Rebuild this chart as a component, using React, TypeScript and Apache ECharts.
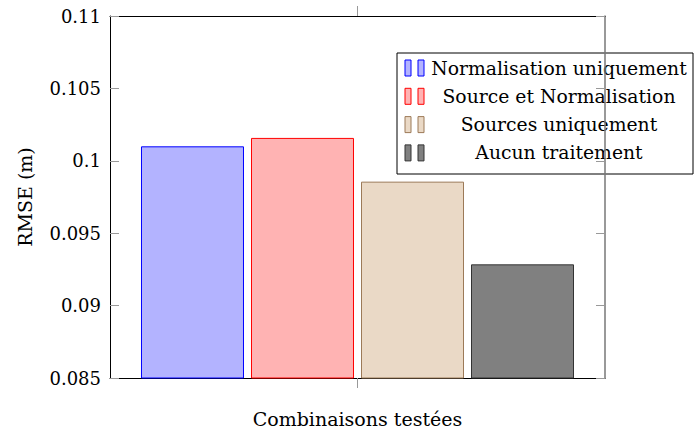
import React, { useEffect, useRef } from "react";
import * as echarts from "echarts";

const categories = [""];
const seriesNames = [
  "Normalisation uniquement",
  "Source et Normalisation",
  "Sources uniquement",
  "Aucun traitement",
];
const seriesValues = [[0.101], [0.10158], [0.09856], [0.09285]];
const fillColors = ["#b3b3ff", "#ffb3b3", "#ead9c6", "#808080"];
const borderColors = ["#0000ff", "#ff0000", "#9c7a58", "#333333"];
const yMin = 0.085;
const yMax = 0.11;
const yStep = 0.005;

const FONT = "DejaVu Serif";

export default function App() {
  const ref = useRef<HTMLDivElement>(null);
  useEffect(() => {
    if (!ref.current) return;
    const chart = echarts.init(ref.current, null, { renderer: "svg" });
    const gridLeft = 110;
    const gridTop = 16;
    const gridW = 495;
    const gridH = 366;

    const legendX = 397;
    const legendY = 53;
    const rowH = 28.3;
    const legendChildren: any[] = [
      {
        type: "rect",
        shape: { x: legendX, y: legendY, width: 296, height: 121 },
        style: { fill: "#ffffff", stroke: "#000000", lineWidth: 1 },
      },
    ];
    seriesNames.forEach((name, i) => {
      const cy = legendY + 15 + i * rowH;
      [405, 418].forEach((ix) => {
        legendChildren.push({
          type: "rect",
          shape: { x: ix, y: cy - 8, width: 6, height: 16 },
          style: { fill: fillColors[i], stroke: borderColors[i], lineWidth: 1 },
        });
      });
      legendChildren.push({
        type: "text",
        x: 559,
        y: cy,
        style: {
          text: name,
          fontFamily: FONT,
          fontSize: 18.8,
          fill: "#000",
          align: "center",
          verticalAlign: "middle",
        },
      });
    });

    chart.setOption({
      animation: false,
      backgroundColor: "#ffffff",
      grid: { left: gridLeft, top: gridTop, width: gridW, height: gridH },
      textStyle: { fontFamily: FONT },
      xAxis: [
        {
          type: "category",
          data: categories,
          position: "bottom",
          name: "Combinaisons testées",
          nameLocation: "middle",
          nameGap: 31,
          nameTextStyle: { fontFamily: FONT, fontSize: 19, color: "#000" },
          axisLine: { lineStyle: { color: "#000", width: 1 } },
          axisTick: { show: true, inside: false, length: 10, alignWithLabel: true, lineStyle: { color: "#999", width: 1 } },
          axisLabel: { show: false },
        },
        {
          type: "category",
          data: categories,
          position: "top",
          axisLine: { lineStyle: { color: "#000", width: 1 } },
          axisTick: { show: true, inside: false, length: 10, alignWithLabel: true, lineStyle: { color: "#999", width: 1 } },
          axisLabel: { show: false },
        },
      ],
      yAxis: [
        {
          type: "value",
          min: yMin,
          max: yMax,
          interval: yStep,
          position: "left",
          name: "RMSE (m)",
          nameLocation: "middle",
          nameGap: 76,
          nameTextStyle: { fontFamily: FONT, fontSize: 19, color: "#000" },
          axisLine: { show: true, lineStyle: { color: "#000", width: 1 } },
          axisTick: { show: true, inside: true, length: 9, lineStyle: { color: "#999", width: 1 } },
          axisLabel: { fontFamily: FONT, fontSize: 18, color: "#000", margin: 9 },
          splitLine: { show: false },
        },
        {
          type: "value",
          min: yMin,
          max: yMax,
          interval: yStep,
          position: "right",
          axisLine: { show: true, lineStyle: { color: "#777", width: 1.5 } },
          axisTick: { show: true, inside: true, length: 9, lineStyle: { color: "#999", width: 1 } },
          axisLabel: { show: false },
          splitLine: { show: false },
        },
      ],
      series: seriesNames.map((name, i) => ({
        type: "bar",
        name,
        data: seriesValues[i],
        barWidth: 103,
        barGap: "6.8%",
        itemStyle: { color: fillColors[i], borderColor: borderColors[i], borderWidth: 1 },
      })),
      graphic: legendChildren,
    });
    return () => chart.dispose();
  }, []);
  return (
    <div
      ref={ref}
      style={{ position: "fixed", left: 0, top: 0, width: 694, height: 433, background: "#fff" }}
    />
  );
}
